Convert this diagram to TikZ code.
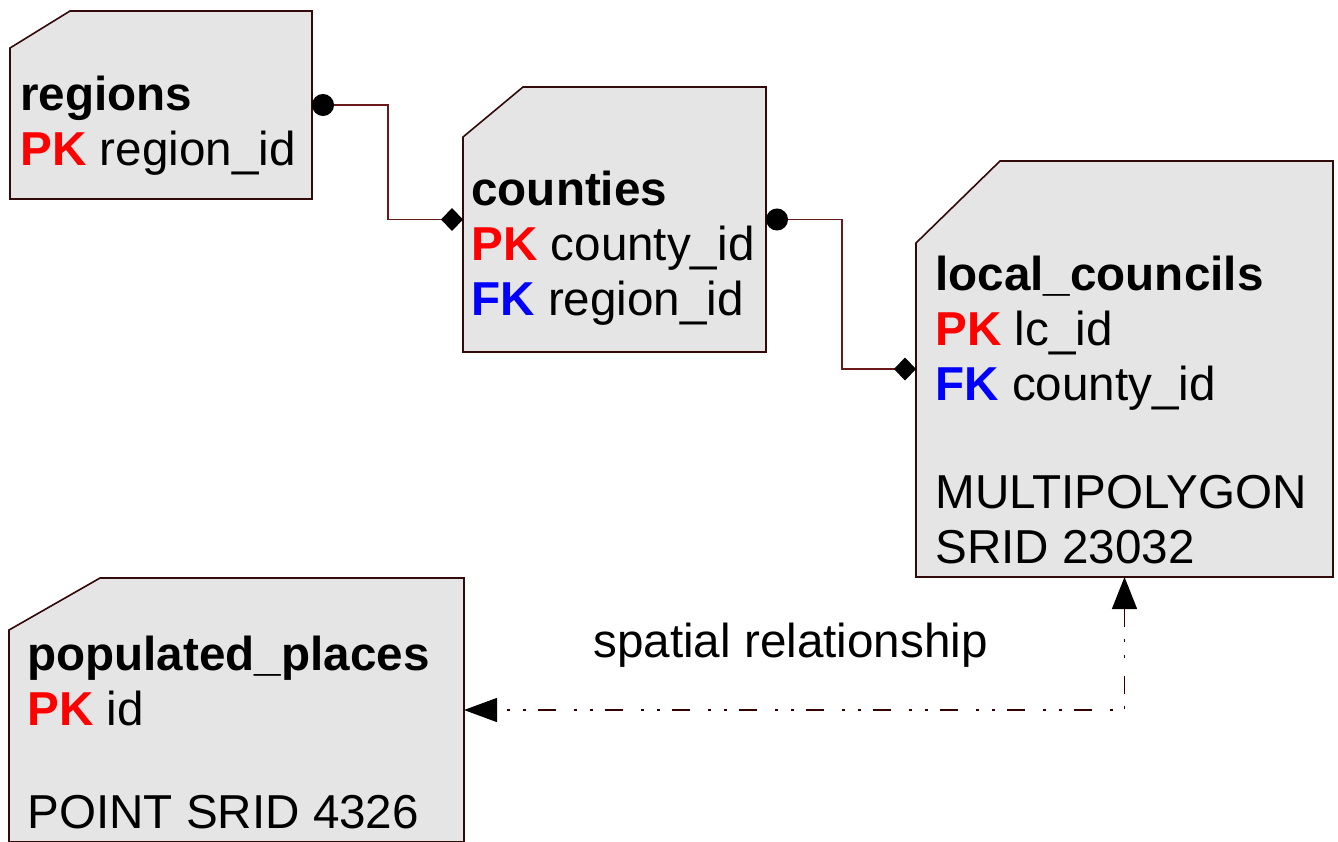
\documentclass[tikz,border=0pt]{standalone}
\usepackage{fontspec}
\setmainfont{Liberation Sans}
\usetikzlibrary{arrows.meta, fit}

\definecolor{tblgray}{RGB}{229,229,229}
\definecolor{tblline}{RGB}{50,10,10}
\definecolor{relline}{RGB}{105,25,25}

\newcommand{\pkey}{\textcolor{red}{\textbf{PK}}}
\newcommand{\fkey}{\textcolor{blue}{\textbf{FK}}}

\tikzset{
  tbl/.style={inner sep=0pt, outer sep=0pt},
  tblbox/.style={draw=tblline, fill=tblgray, line width=0.8pt},
  fields/.style={inner sep=0pt, anchor=north west, align=left,
    font=\fontsize{23.8}{27.5}\selectfont},
  rel/.style={draw=relline, line width=0.7pt},
  spatial/.style={draw=black!80!red, line width=0.7pt,
    dash pattern=on 9pt off 6pt on 1.5pt off 6.5pt on 1.5pt off 9pt},
}

\begin{document}
\begin{tikzpicture}[x=0.5pt, y=-0.5pt]
  \useasboundingbox (0,0) rectangle (1338,841);

  % table areas
  \node[tbl, fit={(10,11) (312,199)}] (regions) {};
  \node[tbl, fit={(463,87) (766,352)}] (counties) {};
  \node[tbl, fit={(916,161) (1333,577)}] (councils) {};
  \node[tbl, fit={(9,578) (464,842)}] (places) {};

  % table outlines, cut top left corner
  \draw[tblbox] (regions.north west) ++(0,37) -- ++(60,-37) -- (regions.north east)
    -- (regions.south east) -- (regions.south west) -- cycle;
  \draw[tblbox] (counties.north west) ++(0,50) -- ++(60,-50) -- (counties.north east)
    -- (counties.south east) -- (counties.south west) -- cycle;
  \draw[tblbox] (councils.north west) ++(0,82) -- ++(84,-82) -- (councils.north east)
    -- (councils.south east) -- (councils.south west) -- cycle;
  \draw[tblbox] (places.north west) ++(0,52) -- ++(91,-52) -- (places.north east)
    -- (places.south east) -- (places.south west) -- cycle;

  % fields
  \node[fields] (regions-txt) at (20,76) {\textbf{regions}\\ \pkey{} region\_id};
  \node[fields] (counties-txt) at (471,171)
    {\textbf{counties}\\ \pkey{} county\_id\\ \fkey{} region\_id};
  \node[fields] (councils-txt) at (935,256)
    {\textbf{local\_councils}\\ \pkey{} lc\_id\\ \fkey{} county\_id\\[26.5pt] MULTIPOLYGON\\ SRID 23032};
  \node[fields] (places-txt) at (27,636)
    {\textbf{populated\_places}\\ \pkey{} id\\[24pt] POINT SRID 4326};

  % relations
  \draw[rel, {Circle[length=11pt, color=black]}-{Diamond[length=11pt, width=11.5pt, color=black]}]
    (regions.east) -- ++(76,0) |- (counties.west);
  \draw[rel, {Circle[length=11pt, color=black]}-{Diamond[length=11pt, width=11.5pt, color=black]}]
    (counties.east) -- ++(76,0) |- (councils.west);
  \draw[spatial, {Triangle[length=16pt, width=12.5pt, color=black]}-{Triangle[length=16.5pt, width=12pt, color=black]}]
    (councils.south) |- (places.east);
  \node[fields, anchor=base west] (spatial-lbl) at (593,657) {spatial relationship};
\end{tikzpicture}
\end{document}
